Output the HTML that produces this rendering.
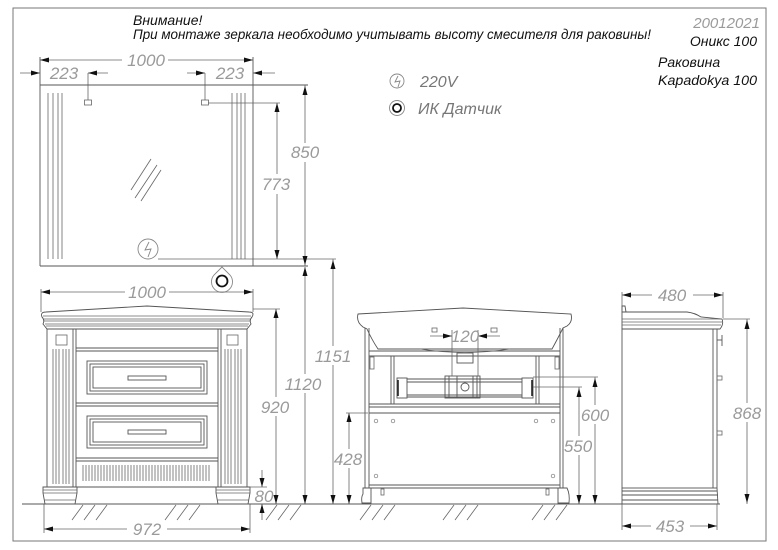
<!DOCTYPE html>
<html><head><meta charset="utf-8"><style>
html,body{margin:0;padding:0;background:#fff;}
svg{display:block;}
.l{stroke:#555;stroke-width:0.9;fill:none;}
.d{stroke:#666;stroke-width:0.8;fill:none;}
.a{fill:#111;stroke:none;}
.t{font-family:"Liberation Sans",sans-serif;font-style:italic;font-size:17px;fill:#9a9a9a;}
.b{font-family:"Liberation Sans",sans-serif;font-style:italic;font-size:14px;fill:#111;}
.g{stroke:#888;stroke-width:0.9;fill:none;}
</style></head><body>
<svg width="778" height="550" viewBox="0 0 778 550" xmlns="http://www.w3.org/2000/svg">
<rect x="0" y="0" width="778" height="550" fill="#fff"/>
<rect x="13" y="8" width="753" height="533" fill="none" stroke="#777" stroke-width="1"/>

<!-- header texts -->
<text class="b" x="133" y="25">Внимание!</text>
<text class="b" x="133" y="39" textLength="518" lengthAdjust="spacingAndGlyphs">При монтаже зеркала необходимо учитывать высоту смесителя для раковины!</text>
<text class="t" x="760" y="28" text-anchor="end" style="font-size:15px">20012021</text>
<text class="b" x="757" y="46" text-anchor="end">Оникс 100</text>
<text class="b" x="658" y="67">Раковина</text>
<text class="b" x="658" y="85" textLength="99" lengthAdjust="spacingAndGlyphs">Kapadokya 100</text>

<!-- legend -->
<circle cx="397" cy="81" r="7" class="g"/>
<path d="M398,76 L395,82 L400,81 L398,87" class="g" stroke-width="0.7"/>
<text class="t" x="420" y="87" style="font-size:16px;fill:#777">220V</text>
<circle cx="397" cy="108" r="7.5" class="g"/>
<circle cx="397" cy="108" r="4" fill="none" stroke="#111" stroke-width="1.8"/>
<text class="t" x="418" y="114" style="font-size:16px;fill:#777">ИК  Датчик</text>

<!-- ===== MIRROR ===== -->
<!-- 1000 top dim -->
<line class="d" x1="40" y1="60" x2="122" y2="60"/><line class="d" x1="168" y1="60" x2="253" y2="60"/>
<polygon class="a" points="40,60 49,57.5 49,62.5"/><polygon class="a" points="253,60 244,57.5 244,62.5"/>
<text class="t" x="146" y="66" text-anchor="middle">1000</text>
<!-- 223 dims -->
<line class="d" x1="20" y1="73" x2="40" y2="73"/><polygon class="a" points="40,73 31,70.5 31,75.5"/>
<text class="t" x="64" y="79" text-anchor="middle">223</text>
<line class="d" x1="88" y1="73" x2="108" y2="73"/><polygon class="a" points="88,73 97,70.5 97,75.5"/>
<line class="d" x1="88" y1="73" x2="88" y2="100"/><rect x="84.5" y="100" width="7" height="5" class="d"/>
<line class="d" x1="187" y1="73" x2="205" y2="73"/><polygon class="a" points="205,73 196,70.5 196,75.5"/>
<text class="t" x="230" y="79" text-anchor="middle">223</text>
<line class="d" x1="253" y1="73" x2="275" y2="73"/><polygon class="a" points="253,73 262,70.5 262,75.5"/>
<line class="d" x1="205" y1="73" x2="205" y2="100"/><rect x="201.5" y="100" width="7" height="5" class="d"/>
<!-- mirror body -->
<line class="l" x1="40" y1="57" x2="40" y2="266"/>
<line class="l" x1="253" y1="57" x2="253" y2="266"/>
<line class="l" x1="40" y1="85" x2="308" y2="85"/>
<line class="l" x1="40" y1="266" x2="308" y2="266"/>
<g class="d">
<line x1="48" y1="93" x2="48" y2="259"/><line x1="53" y1="93" x2="53" y2="259"/><line x1="58" y1="93" x2="58" y2="259"/><line x1="62" y1="93" x2="62" y2="259"/>
<line x1="232" y1="93" x2="232" y2="259"/><line x1="237" y1="93" x2="237" y2="259"/><line x1="241" y1="93" x2="241" y2="259"/><line x1="245" y1="93" x2="245" y2="259"/>
<line x1="131" y1="190" x2="151" y2="159"/><line x1="135" y1="198" x2="157" y2="165"/><line x1="141" y1="201" x2="161" y2="170"/>
</g>
<!-- extension lines -->
<line class="d" x1="208" y1="103" x2="280" y2="103"/>
<line class="d" x1="158" y1="259" x2="336" y2="259"/>
<!-- power symbol in mirror -->
<circle cx="148" cy="249" r="10" class="g"/>
<path d="M149,242 L145,250 L151,249 L148,257" class="g" stroke-width="0.8"/>
<!-- IR sensor -->
<path d="M222,267 L214,275 A10.5,10.5 0 1 0 230,275 Z" class="g"/>
<circle cx="222" cy="281" r="5.5" fill="none" stroke="#111" stroke-width="1.8"/>
<!-- 773 -->
<line class="d" x1="277" y1="103" x2="277" y2="174"/><line class="d" x1="277" y1="194" x2="277" y2="259"/>
<polygon class="a" points="277,103 274.5,112 279.5,112"/><polygon class="a" points="277,259 274.5,250 279.5,250"/>
<text class="t" x="276" y="190" text-anchor="middle">773</text>
<!-- 850 -->
<line class="d" x1="305" y1="85" x2="305" y2="143"/><line class="d" x1="305" y1="162" x2="305" y2="266"/>
<polygon class="a" points="305,86 302.5,95 307.5,95"/><polygon class="a" points="305,265 302.5,256 307.5,256"/>
<text class="t" x="305" y="158" text-anchor="middle">850</text>
<!-- 1120 -->
<line class="d" x1="305" y1="267" x2="305" y2="374"/><line class="d" x1="305" y1="393" x2="305" y2="504"/>
<polygon class="a" points="305,267 302.5,276 307.5,276"/><polygon class="a" points="305,504 302.5,495 307.5,495"/>
<text class="t" x="303" y="390" text-anchor="middle">1120</text>
<!-- 1151 -->
<line class="d" x1="333" y1="259" x2="333" y2="346"/><line class="d" x1="333" y1="365" x2="333" y2="504"/>
<polygon class="a" points="333,260 330.5,269 335.5,269"/><polygon class="a" points="333,504 330.5,495 335.5,495"/>
<text class="t" x="333" y="362" text-anchor="middle">1151</text>

<!-- ===== FRONT CABINET ===== -->
<line class="d" x1="41" y1="292" x2="125" y2="292"/><line class="d" x1="169" y1="292" x2="253" y2="292"/>
<polygon class="a" points="41,292 50,289.5 50,294.5"/><polygon class="a" points="253,292 244,289.5 244,294.5"/>
<text class="t" x="147" y="298" text-anchor="middle">1000</text>
<line class="d" x1="41" y1="289" x2="41" y2="312"/><line class="d" x1="253" y1="289" x2="253" y2="312"/>
<!-- countertop -->
<path class="l" d="M42,317 Q40,312 46,312 L147,306 L249,312 Q255,312 252,317 Q249,320 251,324 L247,329 L47,329 L43,324 Q45,320 42,317 Z"/>
<g class="d">
<line x1="43" y1="316" x2="251" y2="316"/><line x1="44" y1="319" x2="250" y2="319"/>
<line x1="44" y1="321" x2="250" y2="321"/><line x1="45" y1="324" x2="249" y2="324"/><line x1="46" y1="326" x2="248" y2="326"/>
</g>
<!-- pilasters -->
<rect class="l" x="47" y="329" width="29" height="158"/>
<rect class="l" x="218" y="329" width="29" height="158"/>
<line class="l" x1="73" y1="329" x2="73" y2="487"/><line class="l" x1="221" y1="329" x2="221" y2="487"/>
<rect class="d" x="56" y="335" width="11" height="10"/><rect class="d" x="227" y="335" width="11" height="10"/>
<g class="d">
<line x1="53" y1="349" x2="53" y2="484"/><line x1="56" y1="349" x2="56" y2="484"/><line x1="59" y1="349" x2="59" y2="484"/><line x1="63" y1="349" x2="63" y2="484"/><line x1="66" y1="349" x2="66" y2="484"/><line x1="69" y1="349" x2="69" y2="484"/>
<line x1="225" y1="349" x2="225" y2="484"/><line x1="228" y1="349" x2="228" y2="484"/><line x1="231" y1="349" x2="231" y2="484"/><line x1="235" y1="349" x2="235" y2="484"/><line x1="238" y1="349" x2="238" y2="484"/><line x1="241" y1="349" x2="241" y2="484"/>
</g>
<!-- central body -->
<g class="l">
<line x1="76" y1="348" x2="218" y2="348"/><line x1="76" y1="351" x2="218" y2="351"/>
<line x1="76" y1="403" x2="218" y2="403"/><line x1="76" y1="406" x2="218" y2="406"/>
<line x1="76" y1="458" x2="218" y2="458"/><line x1="76" y1="461" x2="218" y2="461"/>
<line x1="47" y1="487" x2="247" y2="487"/>
<rect x="87" y="361" width="120" height="33"/><rect x="90" y="364" width="114" height="27"/><rect x="93" y="367" width="108" height="21"/>
<rect x="128" y="376" width="38" height="4"/>
<rect x="87" y="416" width="120" height="32"/><rect x="90" y="419" width="114" height="26"/><rect x="93" y="422" width="108" height="20"/>
<rect x="128" y="430" width="38" height="4"/>
</g>
<g class="d" stroke-width="0.7">
<line x1="83" y1="465" x2="83" y2="481"/><line x1="86" y1="465" x2="86" y2="481"/><line x1="89" y1="465" x2="89" y2="481"/><line x1="92" y1="465" x2="92" y2="481"/><line x1="95" y1="465" x2="95" y2="481"/><line x1="98" y1="465" x2="98" y2="481"/><line x1="101" y1="465" x2="101" y2="481"/><line x1="104" y1="465" x2="104" y2="481"/><line x1="107" y1="465" x2="107" y2="481"/><line x1="110" y1="465" x2="110" y2="481"/><line x1="113" y1="465" x2="113" y2="481"/><line x1="116" y1="465" x2="116" y2="481"/><line x1="119" y1="465" x2="119" y2="481"/><line x1="122" y1="465" x2="122" y2="481"/><line x1="125" y1="465" x2="125" y2="481"/><line x1="128" y1="465" x2="128" y2="481"/><line x1="131" y1="465" x2="131" y2="481"/><line x1="134" y1="465" x2="134" y2="481"/><line x1="137" y1="465" x2="137" y2="481"/><line x1="140" y1="465" x2="140" y2="481"/><line x1="143" y1="465" x2="143" y2="481"/><line x1="146" y1="465" x2="146" y2="481"/><line x1="149" y1="465" x2="149" y2="481"/><line x1="152" y1="465" x2="152" y2="481"/><line x1="155" y1="465" x2="155" y2="481"/><line x1="158" y1="465" x2="158" y2="481"/><line x1="161" y1="465" x2="161" y2="481"/><line x1="164" y1="465" x2="164" y2="481"/><line x1="167" y1="465" x2="167" y2="481"/><line x1="170" y1="465" x2="170" y2="481"/><line x1="173" y1="465" x2="173" y2="481"/><line x1="176" y1="465" x2="176" y2="481"/><line x1="179" y1="465" x2="179" y2="481"/><line x1="182" y1="465" x2="182" y2="481"/><line x1="185" y1="465" x2="185" y2="481"/><line x1="188" y1="465" x2="188" y2="481"/><line x1="191" y1="465" x2="191" y2="481"/><line x1="194" y1="465" x2="194" y2="481"/><line x1="197" y1="465" x2="197" y2="481"/><line x1="200" y1="465" x2="200" y2="481"/><line x1="203" y1="465" x2="203" y2="481"/><line x1="206" y1="465" x2="206" y2="481"/><line x1="209" y1="465" x2="209" y2="481"/>
</g>
<!-- plinths -->
<path class="l" d="M43,487 L77,487 L77,493 L75,504 L45,504 L43,493 Z"/>
<line class="d" x1="43" y1="490" x2="77" y2="490"/><line class="d" x1="43" y1="493" x2="77" y2="493"/><line class="d" x1="44" y1="500" x2="76" y2="500"/>
<path class="l" d="M216,487 L250,487 L250,493 L248,504 L218,504 L216,493 Z"/>
<line class="d" x1="216" y1="490" x2="250" y2="490"/><line class="d" x1="216" y1="493" x2="250" y2="493"/><line class="d" x1="217" y1="500" x2="249" y2="500"/>
<!-- 920 -->
<line class="d" x1="253" y1="309" x2="280" y2="309"/>
<line class="d" x1="276" y1="309" x2="276" y2="397"/><line class="d" x1="276" y1="416" x2="276" y2="504"/>
<polygon class="a" points="276,309 273.5,318 278.5,318"/><polygon class="a" points="276,504 273.5,495 278.5,495"/>
<text class="t" x="275" y="413" text-anchor="middle">920</text>
<!-- 80 -->
<line class="d" x1="250" y1="487" x2="267" y2="487"/>
<line class="d" x1="262" y1="470" x2="262" y2="487"/><polygon class="a" points="262,487 259.5,478 264.5,478"/>
<line class="d" x1="262" y1="504" x2="262" y2="520"/><polygon class="a" points="262,504 259.5,513 264.5,513"/>
<text class="t" x="264" y="502" text-anchor="middle">80</text>
<!-- 972 -->
<line class="d" x1="44" y1="504" x2="44" y2="533"/><line class="d" x1="250" y1="504" x2="250" y2="533"/>
<line class="d" x1="44" y1="529" x2="127" y2="529"/><line class="d" x1="167" y1="529" x2="250" y2="529"/>
<polygon class="a" points="44,529 53,526.5 53,531.5"/><polygon class="a" points="250,529 241,526.5 241,531.5"/>
<text class="t" x="147" y="535" text-anchor="middle">972</text>

<!-- ground line and hatching -->
<line class="l" x1="22" y1="504" x2="720" y2="504"/>
<g class="d">
<line x1="72" y1="520" x2="83" y2="505"/><line x1="84" y1="520" x2="95" y2="505"/><line x1="96" y1="520" x2="107" y2="505"/>
<line x1="165" y1="520" x2="176" y2="505"/><line x1="177" y1="520" x2="188" y2="505"/><line x1="189" y1="520" x2="200" y2="505"/>
<line x1="266" y1="520" x2="277" y2="505"/><line x1="278" y1="520" x2="289" y2="505"/><line x1="290" y1="520" x2="301" y2="505"/>
<line x1="360" y1="520" x2="371" y2="505"/><line x1="372" y1="520" x2="383" y2="505"/><line x1="384" y1="520" x2="395" y2="505"/>
<line x1="443" y1="520" x2="454" y2="505"/><line x1="455" y1="520" x2="466" y2="505"/><line x1="467" y1="520" x2="478" y2="505"/>
<line x1="532" y1="520" x2="543" y2="505"/><line x1="544" y1="520" x2="555" y2="505"/><line x1="556" y1="520" x2="567" y2="505"/>
</g>

<!-- ===== BACK VIEW ===== -->
<path class="l" d="M358,314 L463,308 L571,314 Q573,322 567,326 L563,328 Q557,340 552,349 L378,349 Q372,340 367,329 L363,327 Q356,322 358,314 Z"/>
<path class="d" d="M420,349 Q465,356 510,349"/>
<g class="l">
<line x1="365" y1="328" x2="365" y2="488"/><line x1="369" y1="328" x2="369" y2="488"/>
<line x1="560" y1="328" x2="560" y2="488"/><line x1="563" y1="328" x2="563" y2="488"/>
<line x1="369" y1="351" x2="560" y2="351"/><line x1="369" y1="356" x2="560" y2="356"/>
<line x1="391" y1="356" x2="391" y2="404"/><line x1="394" y1="356" x2="394" y2="404"/>
<line x1="536" y1="356" x2="536" y2="404"/><line x1="539" y1="356" x2="539" y2="404"/>
<line x1="369" y1="404" x2="560" y2="404"/><line x1="369" y1="407" x2="560" y2="407"/>
<line x1="369" y1="413" x2="560" y2="413"/>
<line x1="369" y1="485" x2="560" y2="485"/><line x1="369" y1="488" x2="560" y2="488"/>
</g>
<rect class="d" x="370" y="357" width="4" height="12"/><rect class="d" x="555" y="357" width="4" height="12"/>
<g fill="none" stroke="#777" stroke-width="0.7">
<circle cx="376" cy="421" r="1.8"/><circle cx="393" cy="421" r="1.8"/><circle cx="536" cy="421" r="1.8"/><circle cx="553" cy="421" r="1.8"/>
<circle cx="376" cy="476" r="1.8"/><circle cx="553" cy="476" r="1.8"/>
</g>
<!-- legs -->
<path class="l" d="M363,488 L371,488 L371,503 L362,503 Q361,497 363,494 Z"/>
<path class="l" d="M558,488 L567,488 Q570,494 569,503 L558,503 Z"/>
<rect class="d" x="381" y="489" width="3" height="6"/><rect class="d" x="546" y="489" width="3" height="6"/>
<!-- pipe -->
<g class="l">
<line x1="407" y1="379" x2="522" y2="379"/><line x1="407" y1="382" x2="522" y2="382"/>
<line x1="407" y1="395" x2="522" y2="395"/><line x1="407" y1="397" x2="522" y2="397"/>
<rect x="397" y="378" width="10" height="20"/><rect x="522" y="378" width="11" height="20"/>
<rect x="445" y="376" width="35" height="22"/>
<line x1="449" y1="376" x2="449" y2="398"/><line x1="457" y1="376" x2="457" y2="398"/>
<line x1="473" y1="376" x2="473" y2="398"/><line x1="477" y1="376" x2="477" y2="398"/>
<circle cx="465" cy="387" r="4"/>
<rect x="457" y="353" width="16" height="10"/>
</g>
<line x1="398" y1="380" x2="398" y2="396" stroke="#222" stroke-width="1.6"/>
<line x1="532" y1="380" x2="532" y2="396" stroke="#222" stroke-width="1.6"/>
<!-- 120 -->
<line class="d" x1="452" y1="330" x2="452" y2="376"/><line class="d" x1="478" y1="330" x2="478" y2="376"/>
<line class="d" x1="430" y1="336" x2="452" y2="336"/><polygon class="a" points="452,336 443,333.5 443,338.5"/>
<line class="d" x1="478" y1="336" x2="500" y2="336"/><polygon class="a" points="478,336 487,333.5 487,338.5"/>
<rect x="453" y="328" width="24" height="16" fill="#fff"/>
<text class="t" x="465" y="342" text-anchor="middle">120</text>
<rect class="d" x="432" y="328" width="5" height="4"/><rect class="d" x="491" y="328" width="6" height="4"/>
<!-- 600 -->
<line class="d" x1="533" y1="377" x2="598" y2="377"/>
<line class="d" x1="595" y1="377" x2="595" y2="405"/><line class="d" x1="595" y1="424" x2="595" y2="504"/>
<polygon class="a" points="595,378 592.5,387 597.5,387"/><polygon class="a" points="595,504 592.5,495 597.5,495"/>
<text class="t" x="595" y="421" text-anchor="middle">600</text>
<!-- 550 -->
<line class="d" x1="533" y1="387" x2="582" y2="387"/>
<line class="d" x1="579" y1="387" x2="579" y2="436"/><line class="d" x1="579" y1="455" x2="579" y2="504"/>
<polygon class="a" points="579,388 576.5,397 581.5,397"/><polygon class="a" points="579,504 576.5,495 581.5,495"/>
<text class="t" x="578" y="452" text-anchor="middle">550</text>
<!-- 428 -->
<line class="d" x1="346" y1="413" x2="368" y2="413"/>
<line class="d" x1="349" y1="413" x2="349" y2="449"/><line class="d" x1="349" y1="468" x2="349" y2="504"/>
<polygon class="a" points="349,413 346.5,422 351.5,422"/><polygon class="a" points="349,504 346.5,495 351.5,495"/>
<text class="t" x="348" y="465" text-anchor="middle">428</text>

<!-- ===== SIDE VIEW ===== -->
<line class="d" x1="622" y1="292" x2="622" y2="310"/><line class="d" x1="723" y1="292" x2="723" y2="318"/>
<line class="d" x1="622" y1="295" x2="652" y2="295"/><line class="d" x1="693" y1="295" x2="723" y2="295"/>
<polygon class="a" points="622,295 631,292.5 631,297.5"/><polygon class="a" points="723,295 714,292.5 714,297.5"/>
<text class="t" x="672" y="301" text-anchor="middle">480</text>
<path class="l" d="M622,312 L687,312 Q695,313 701,317 L722,319 Q724,324 720,329 L622,329 Z"/>
<path class="l" d="M622,312 L622,306 L625,306 L626,312"/>
<g class="d"><line x1="622" y1="319" x2="722" y2="319"/><line x1="622" y1="322" x2="722" y2="322"/><line x1="622" y1="325" x2="721" y2="325"/></g>
<rect class="l" x="622" y="329" width="95" height="159"/>
<line class="l" x1="713" y1="329" x2="713" y2="488"/>
<line class="l" x1="722" y1="335" x2="722" y2="346"/><line class="l" x1="717" y1="340" x2="722" y2="340"/>
<rect class="d" x="717" y="376" width="5" height="4"/><rect class="d" x="717" y="431" width="5" height="4"/>
<g class="l"><line x1="622" y1="491" x2="717" y2="491"/><line x1="622" y1="495" x2="718" y2="495"/><line x1="622" y1="500" x2="718" y2="500"/>
<line x1="622" y1="488" x2="622" y2="504"/><line x1="717" y1="488" x2="718" y2="504"/></g>
<!-- 868 -->
<line class="d" x1="723" y1="319" x2="750" y2="319"/>
<line class="d" x1="747" y1="319" x2="747" y2="403"/><line class="d" x1="747" y1="422" x2="747" y2="504"/>
<polygon class="a" points="747,320 744.5,329 749.5,329"/><polygon class="a" points="747,503 744.5,494 749.5,494"/>
<text class="t" x="747" y="419" text-anchor="middle">868</text>
<!-- 453 -->
<line class="d" x1="622" y1="504" x2="622" y2="530"/><line class="d" x1="717" y1="504" x2="717" y2="530"/>
<line class="d" x1="622" y1="526" x2="651" y2="526"/><line class="d" x1="690" y1="526" x2="717" y2="526"/>
<polygon class="a" points="622,526 631,523.5 631,528.5"/><polygon class="a" points="717,526 708,523.5 708,528.5"/>
<text class="t" x="670" y="532" text-anchor="middle">453</text>
</svg>
</body></html>
